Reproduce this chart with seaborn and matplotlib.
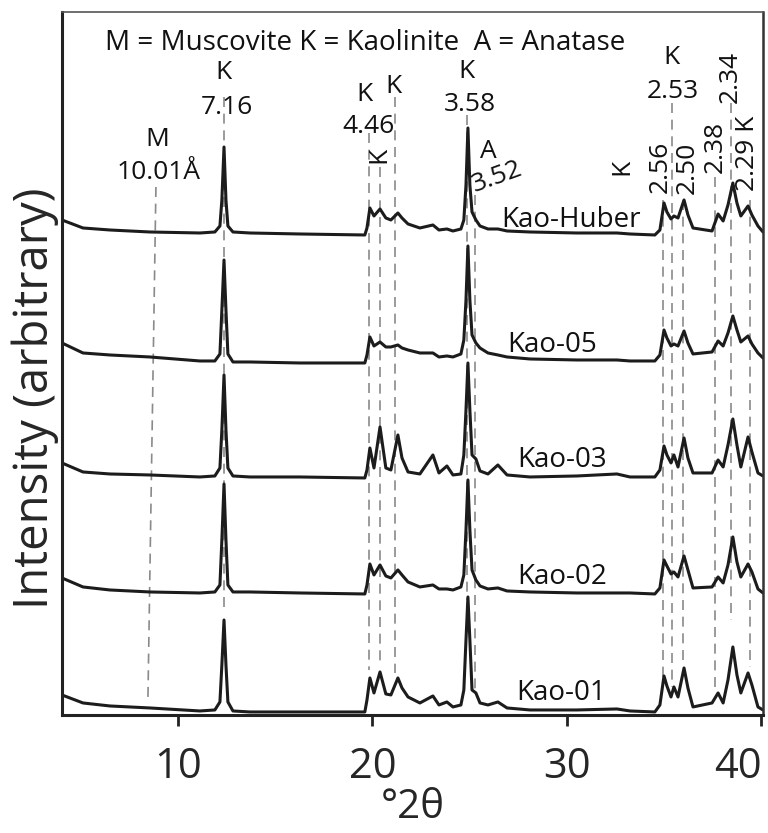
import matplotlib
matplotlib.use("Agg")
import matplotlib.pyplot as plt
import pandas as pd
import seaborn as sns

# diffraction angle (deg 2-theta), shared by all patterns
two_theta = [4.04, 5.12, 6.50, 8.56, 11.13, 11.90, 12.16, 12.26, 12.37, 12.47,
             12.57, 12.83, 13.70, 16.27, 19.61, 19.72, 19.87, 20.08, 20.39, 20.69,
             20.95, 21.31, 21.52, 21.83, 22.44, 23.11, 23.42, 23.83, 24.14, 24.55,
             24.70, 24.81, 24.91, 25.01, 25.12, 25.32, 25.53, 25.94, 26.45, 26.92,
             28.10, 30.51, 32.57, 33.24, 34.52, 34.78, 34.99, 35.14, 35.35, 35.50,
             35.71, 36.02, 36.22, 36.48, 37.46, 37.77, 38.03, 38.28, 38.53, 38.74,
             38.94, 39.31, 39.51, 39.82, 40.08]

# stacked intensities (arbitrary units, offsets included)
kao_huber = [495, 487, 485, 483, 482, 483, 489, 515, 568, 515,
             489, 483, 482, 481, 480, 487, 507, 499, 506, 497,
             495, 502, 497, 491, 487, 490, 485, 486, 484, 486,
             495, 530, 587, 530, 503, 495, 489, 486, 486, 484,
             483, 482, 482, 481, 480, 485, 512, 503, 496, 499,
             497, 515, 500, 487, 484, 501, 494, 510, 532, 512,
             499, 509, 500, 489, 483]
kao_05 = [372, 362, 360, 358, 354, 354, 361, 405, 455, 405,
          361, 353, 353, 352, 352, 360, 378, 369, 373, 368,
          368, 370, 367, 365, 362, 362, 358, 359, 358, 361,
          375, 415, 469, 415, 380, 372, 367, 362, 360, 358,
          356, 355, 355, 354, 354, 360, 385, 377, 369, 371,
          369, 384, 372, 361, 363, 374, 369, 382, 399, 385,
          373, 379, 371, 362, 357]
kao_03 = [252, 243, 241, 240, 238, 239, 247, 285, 340, 285,
          247, 239, 238, 238, 237, 245, 267, 247, 288, 247,
          245, 280, 257, 243, 241, 260, 242, 249, 240, 241,
          260, 305, 352, 305, 260, 256, 244, 241, 250, 240,
          238, 239, 241, 238, 238, 245, 269, 260, 252, 260,
          248, 277, 257, 242, 242, 255, 248, 270, 296, 270,
          248, 278, 263, 242, 239]
kao_02 = [137, 128, 125, 123, 122, 123, 130, 175, 231, 175,
          130, 123, 123, 122, 121, 130, 151, 140, 150, 139,
          137, 145, 140, 133, 128, 130, 126, 126, 125, 128,
          140, 185, 235, 185, 145, 135, 129, 126, 127, 124,
          123, 122, 122, 122, 121, 127, 155, 149, 141, 143,
          138, 159, 145, 127, 128, 138, 132, 150, 178, 153,
          138, 151, 143, 126, 122]
kao_01 = [20, 12, 9, 7, 4, 5, 13, 50, 95, 50,
          13, 4, 3, 3, 3, 15, 37, 22, 43, 21,
          20, 37, 27, 18, 12, 19, 10, 13, 8, 10,
          25, 75, 118, 75, 25, 22, 12, 10, 13, 7,
          5, 5, 6, 4, 3, 10, 39, 29, 18, 28,
          18, 47, 27, 8, 12, 22, 12, 35, 68, 40,
          22, 42, 30, 8, 5]

samples = ["Kao-Huber", "Kao-05", "Kao-03", "Kao-02", "Kao-01"]
patterns = [kao_huber, kao_05, kao_03, kao_02, kao_01]

# reference d-spacing lines: x at top, x at bottom, y top, y bottom
ref_x_top = [8.87, 12.37, 19.82, 20.39, 21.16, 24.86, 25.27, 34.94, 35.40, 35.96, 37.61, 38.43, 39.41]
ref_x_bot = [8.46, 12.37, 19.82, 20.39, 21.16, 24.86, 25.27, 34.94, 35.40, 35.96, 37.61, 38.43, 39.41]
ref_y_top = [528, 618, 582, 548, 618, 600, 520, 515, 612, 515, 538, 612, 515]
ref_y_bot = [18, 103, 45, 50, 42, 115, 25, 38, 28, 55, 28, 95, 48]

# peak labels: text, x, y, rotation
peak_text = ["M", "10.01Å", "K", "7.16", "K", "4.46", "K", "K", "K", "3.58",
             "A", "3.52", "K", "2.56", "K", "2.53", "2.50", "2.38", "2.34", "2.29 K"]
peak_x = [8.92, 9.0, 12.32, 12.5, 19.6, 19.8, 21.1, 20.34, 24.86, 25.0,
          25.98, 26.4, 32.85, 34.78, 35.4, 35.45, 36.17, 37.61, 38.38, 39.3]
peak_y = [575, 542, 642, 607, 620, 588, 628, 560, 643, 610,
          563, 538, 548, 548, 657, 623, 547, 568, 638, 562]
peak_rot = [0, 0, 0, 0, 0, 0, 0, 90, 0, 0,
            0, 20, 90, 90, 0, 0, 90, 90, 90, 90]

sample_x = [30.2, 29.23, 29.74, 29.74, 29.69]
sample_y = [495, 370, 255, 138, 22]

rows = []
for name, vals in zip(samples, patterns):
    for t, v in zip(two_theta, vals):
        rows.append({"two_theta": t, "intensity": v, "sample": name})
df = pd.DataFrame(rows)

sns.set_theme(style="white")
plt.rcParams["font.family"] = ["Open Sans", "DejaVu Sans"]

fig = plt.figure(figsize=(7.68, 8.33), dpi=100)
ax = fig.add_axes([0.0807, 0.1417, 0.9128, 0.8439])

for x0, x1, y0, y1 in zip(ref_x_top, ref_x_bot, ref_y_top, ref_y_bot):
    ax.plot([x0, x1], [y0, y1], color="#8a8a8a", lw=1.2, ls=(0, (6, 4)), zorder=1)

sns.lineplot(data=df, x="two_theta", y="intensity", units="sample", estimator=None,
             sort=False, color="#1c1c1c", lw=2.2, legend=False, ax=ax, zorder=2)

ax.text(19.61, 672, "M = Muscovite K = Kaolinite  A = Anatase", ha="center", va="center",
        fontsize=20, color="#111111")
for s, x, y, r in zip(peak_text, peak_x, peak_y, peak_rot):
    ax.text(x, y, s, ha="center", va="center", rotation=r, fontsize=19, color="#111111")
for s, x, y in zip(samples, sample_x, sample_y):
    ax.text(x, y, s, ha="center", va="center", fontsize=20, color="#111111")

ax.set_xlim(4.04, 40.08)
ax.set_ylim(0, 703)
ax.set_xticks([10, 20, 30, 40])
ax.set_yticks([])
ax.tick_params(axis="x", labelsize=30, length=8, width=2, pad=14, color="#222222", bottom=True)
ax.get_xticklabels()[-1].set_horizontalalignment("right")
ax.set_xlabel("°2θ", fontsize=29, labelpad=0)
ax.set_ylabel("Intensity (arbitrary)", fontsize=34, labelpad=2)
ax.yaxis.label.set_y(0.45)

for side in ["left", "bottom"]:
    ax.spines[side].set_linewidth(2.2)
    ax.spines[side].set_color("#222222")
ax.spines["top"].set_linewidth(1.2)
ax.spines["top"].set_color("#555555")
ax.spines["right"].set_linewidth(1.8)
ax.spines["right"].set_color("#333333")

fig.savefig("out.png", dpi=100)
